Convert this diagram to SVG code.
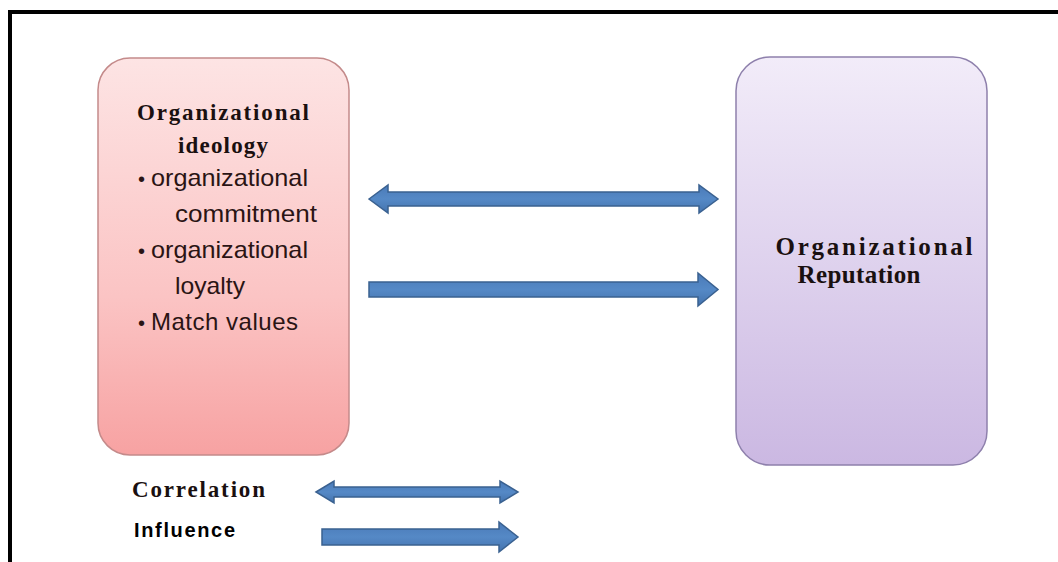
<svg xmlns="http://www.w3.org/2000/svg" width="1058" height="562" viewBox="0 0 1058 562">
  <defs>
    <linearGradient id="gPink" x1="0" y1="0" x2="0" y2="1">
      <stop offset="0" stop-color="#fde4e4"/>
      <stop offset="0.6" stop-color="#fbc4c4"/>
      <stop offset="1" stop-color="#f7a2a2"/>
    </linearGradient>
    <linearGradient id="gPurple" x1="0" y1="0" x2="0" y2="1">
      <stop offset="0" stop-color="#f2ecf9"/>
      <stop offset="1" stop-color="#cbb8e2"/>
    </linearGradient>
    <linearGradient id="gArrow" x1="0" y1="0" x2="0" y2="1">
      <stop offset="0" stop-color="#4a7ab8"/>
      <stop offset="0.5" stop-color="#5589c6"/>
      <stop offset="1" stop-color="#4473ae"/>
    </linearGradient>
  </defs>
  <style>
    .frame { fill: none; stroke: #000; stroke-width: 4; }
    .pink { fill: url(#gPink); stroke: #c48a8a; stroke-width: 1.5; }
    .purple { fill: url(#gPurple); stroke: #8e80ac; stroke-width: 1.5; }
    .arrow { fill: url(#gArrow); stroke: #3a6190; stroke-width: 1.5; stroke-linejoin: miter; }
    .head { font-family: "Liberation Serif", "Times New Roman", serif; font-weight: bold; font-size: 23px; fill: #1a1010; }
    .big { font-size: 25px; }
    .bul { font-family: "Liberation Sans", Arial, sans-serif; font-size: 24px; fill: #2a1414; }
    .dot { font-family: "Liberation Sans", Arial, sans-serif; font-size: 20px; fill: #2a1414; }
    .inf { font-family: "Liberation Sans", Arial, sans-serif; font-weight: bold; font-size: 20px; fill: #000; }
  </style>

  <path class="frame" d="M10,562 V12 H1058"/>

  <g id="node-ideology">
    <rect class="pink" x="98" y="58" width="251" height="397" rx="32" ry="32"/>
    <text class="head" x="223" y="120" text-anchor="middle" textLength="172" lengthAdjust="spacing">Organizational</text>
    <text class="head" x="223" y="153" text-anchor="middle" textLength="90" lengthAdjust="spacing">ideology</text>
    <text class="dot" x="138" y="186">•</text>
    <text class="bul" x="151" y="186" textLength="157" lengthAdjust="spacingAndGlyphs">organizational</text>
    <text class="bul" x="175" y="222" textLength="142" lengthAdjust="spacingAndGlyphs">commitment</text>
    <text class="dot" x="138" y="258">•</text>
    <text class="bul" x="151" y="258" textLength="157" lengthAdjust="spacingAndGlyphs">organizational</text>
    <text class="bul" x="175" y="294" textLength="70" lengthAdjust="spacingAndGlyphs">loyalty</text>
    <text class="dot" x="138" y="330">•</text>
    <text class="bul" x="151" y="330" textLength="147" lengthAdjust="spacing">Match values</text>
  </g>

  <g id="node-reputation">
    <rect class="purple" x="736" y="57" width="251" height="408" rx="34" ry="34"/>
    <text class="head big" x="874" y="255" text-anchor="middle" textLength="197" lengthAdjust="spacing">Organizational</text>
    <text class="head big" x="859" y="283" text-anchor="middle" textLength="123" lengthAdjust="spacing">Reputation</text>
  </g>

  <g id="connectors">
    <path class="arrow" d="M369,199 L388,185 L388,192 L699,192 L699,185 L718,199 L699,213 L699,206 L388,206 L388,213 Z"/>
    <path class="arrow" d="M369,282 L698,282 L698,273 L718,289.5 L698,306 L698,297 L369,297 Z"/>
  </g>

  <g id="legend">
    <text class="head" x="132" y="497" textLength="133" lengthAdjust="spacing">Correlation</text>
    <text class="inf" x="134" y="537" textLength="101" lengthAdjust="spacing">Influence</text>
    <path class="arrow" d="M316,492 L334,481 L334,487 L500,487 L500,481 L518,492 L500,503 L500,497 L334,497 L334,503 Z"/>
    <path class="arrow" d="M322,529 L499,529 L499,522 L518,537 L499,552 L499,545 L322,545 Z"/>
  </g>
</svg>
